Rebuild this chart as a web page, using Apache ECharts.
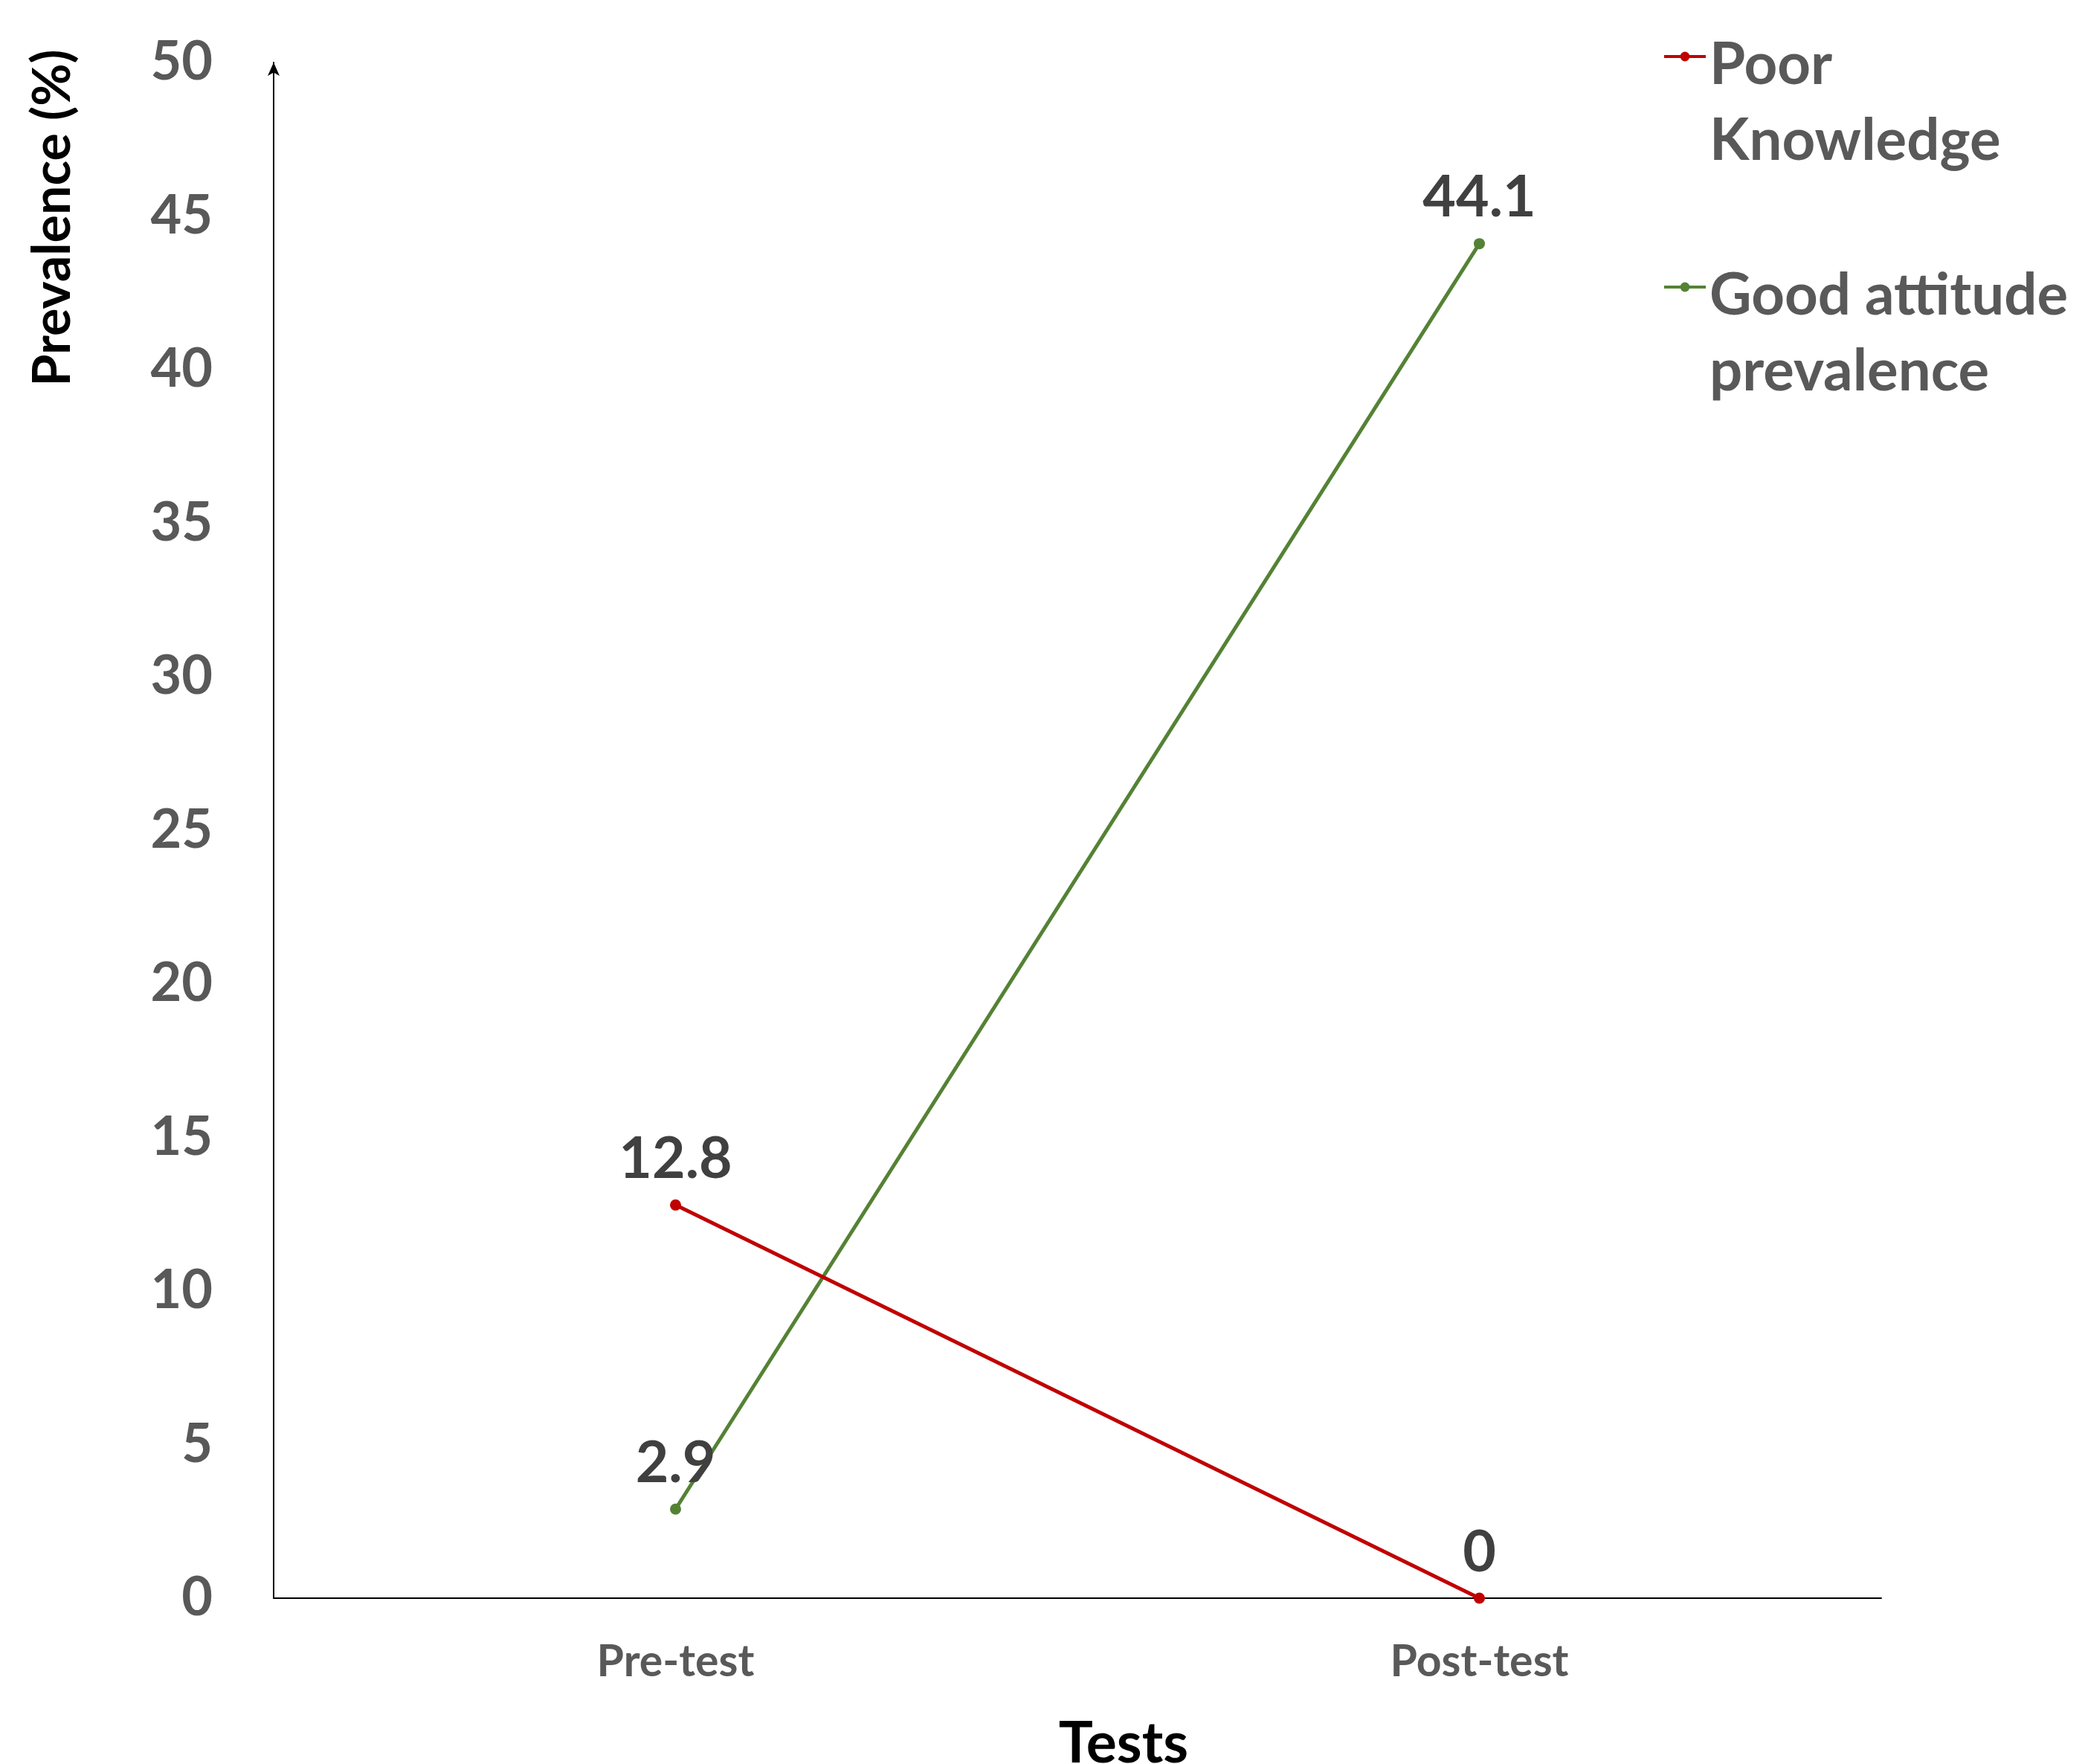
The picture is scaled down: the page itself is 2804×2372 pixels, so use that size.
<!DOCTYPE html>
<html>
<head>
<meta charset="utf-8">
<script src="https://cdn.jsdelivr.net/npm/echarts@6/dist/echarts.min.js"></script>
<style>
html,body{margin:0;padding:0;background:#fff;}
#chart{width:2804px;height:2372px;}
</style>
</head>
<body>
<div id="chart"></div>
<script>
const categories = ['Pre-test', 'Post-test'];
const poorKnowledge = [12.8, 0];
const goodAttitude = [2.9, 44.1];
const seriesNames = ['Poor Knowledge', 'Good attitude prevalence'];
const legendLines = {'Poor Knowledge': ['Poor', 'Knowledge'], 'Good attitude prevalence': ['Good attitude', 'prevalence']};
const yTicks = {min: 0, max: 50, interval: 5};
const xAxisTitle = 'Tests';
const yAxisTitle = 'Prevalence (%)';

const FONT = 'Lato, "Open Sans", sans-serif';
const LH = 102;
const chart = echarts.init(document.getElementById('chart'));
const labelStyle = {
  show: true, position: 'top', distance: 15,
  fontFamily: FONT, fontWeight: 'bold', fontSize: 77, color: '#404040'
};
const legendText = {fontFamily: FONT, fontWeight: 'bold', fontSize: 78, lineHeight: LH, color: '#595959', verticalAlign: 'bottom'};
chart.setOption({
  backgroundColor: '#fff',
  animation: false,
  grid: {left: 368, right: 274, top: 84, bottom: 223, containLabel: false},
  legend: {
    orient: 'vertical', left: 2236, top: 15, itemGap: 96, padding: 0,
    itemWidth: 56, itemHeight: 16,
    lineStyle: {width: 4},
    data: seriesNames,
    formatter: name => '{t|' + legendLines[name][0] + '}{s| }\n{t|' + legendLines[name][1] + '}',
    textStyle: {
      fontFamily: FONT, fontWeight: 'bold', fontSize: 78, color: '#595959',
      rich: {
        t: legendText,
        s: {fontFamily: FONT, fontSize: 20, lineHeight: 2 * LH}
      }
    }
  },
  xAxis: {
    type: 'category', data: categories, boundaryGap: true,
    axisLine: {lineStyle: {color: '#000', width: 2}},
    axisTick: {show: false},
    axisLabel: {fontFamily: FONT, fontWeight: 'bold', fontSize: 59, color: '#595959', margin: 56},
    splitLine: {show: false}
  },
  yAxis: {
    type: 'value', min: yTicks.min, max: yTicks.max, interval: yTicks.interval,
    axisLine: {show: true, symbol: ['none', 'arrow'], symbolSize: [12, 18], lineStyle: {color: '#000', width: 2}},
    axisTick: {show: false},
    axisLabel: {fontFamily: FONT, fontWeight: 'bold', fontSize: 72, color: '#595959', margin: 82},
    splitLine: {show: false}
  },
  graphic: [
    {type: 'text', x: 71, y: 293, rotation: Math.PI / 2,
     style: {text: yAxisTitle, fontFamily: FONT, fontWeight: 'bold', fontSize: 70, fill: '#000', align: 'center', verticalAlign: 'middle'}},
    {type: 'text', x: 1511, y: 2345,
     style: {text: xAxisTitle, fontFamily: FONT, fontWeight: 'bold', fontSize: 77, fill: '#000', align: 'center', verticalAlign: 'middle'}}
  ],
  series: [
    {name: seriesNames[0], type: 'line', data: poorKnowledge, symbol: 'circle', symbolSize: 15,
     itemStyle: {color: '#C00000'}, lineStyle: {color: '#C00000', width: 5}, label: labelStyle, z: 3},
    {name: seriesNames[1], type: 'line', data: goodAttitude, symbol: 'circle', symbolSize: 15,
     itemStyle: {color: '#548235'}, lineStyle: {color: '#548235', width: 5}, label: labelStyle, z: 2}
  ]
});
</script>
</body>
</html>
